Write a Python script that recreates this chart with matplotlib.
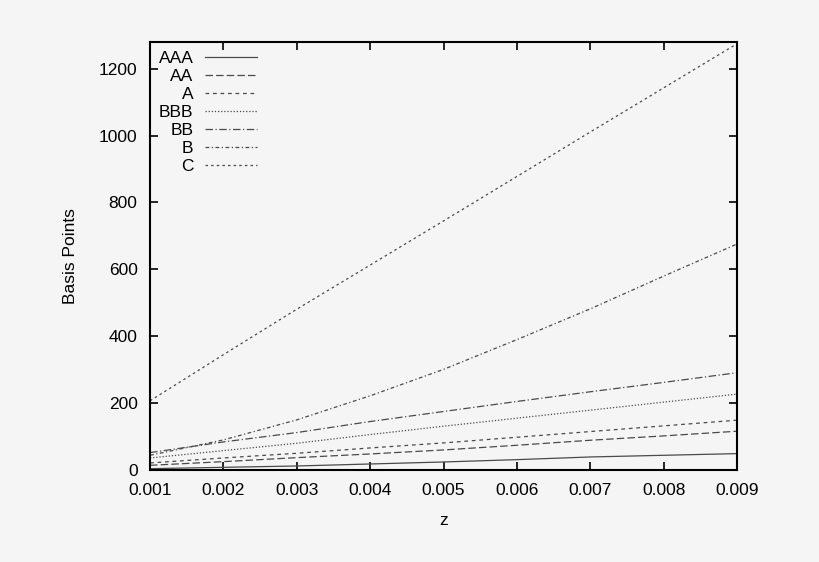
import numpy as np
import matplotlib
matplotlib.use('Agg')
from matplotlib import pyplot as plt

plt.rcParams['font.family'] = ['Liberation Sans', 'DejaVu Sans']

z = [0.001, 0.002, 0.003, 0.004, 0.005, 0.006, 0.007, 0.008, 0.009]

AAA = [4, 8, 12, 18, 24, 31, 39, 44, 49]
AA = [14, 25, 37, 48, 60, 74, 89, 102, 116]
A = [21, 36, 50, 66, 81, 98, 115, 132, 149]
BBB = [36, 58, 80, 106, 131, 155, 179, 203, 227]
BB = [52, 84, 112, 145, 175, 205, 234, 262, 291]
B = [44, 90, 150, 222, 301, 390, 482, 580, 676]
C = [207, 345, 481, 613, 745, 878, 1011, 1143, 1275]

labels = ['AAA', 'AA', 'A', 'BBB', 'BB', 'B', 'C']
series = [AAA, AA, A, BBB, BB, B, C]
dashes = [None, (6, 2.5), (3, 3), (1, 1.5), (6, 2, 1, 2), (3, 2, 1, 2), (2, 2.5)]

bg = '#f5f5f5'
fig = plt.figure(figsize=(8.2, 5.62), dpi=100, facecolor=bg)
ax = fig.add_axes([0.183, 0.1637, 0.716, 0.7616], facecolor=bg)

for lab, vals, d in zip(labels, series, dashes):
    line, = ax.plot(z, vals, color='#4a4a4a', lw=0.9, label=lab)
    if d is not None:
        line.set_dashes(d)

ax.set_xlim(0.001, 0.009)
ax.set_ylim(0, 1280)
ax.set_xticks(z)
ax.set_xticklabels(['%.3f' % v for v in z])
ax.set_yticks(range(0, 1201, 200))

ax.tick_params(direction='in', top=True, right=True, length=6, width=1.2,
               labelsize=12.5, pad=9)
for s in ax.spines.values():
    s.set_linewidth(1.5)

ax.set_xlabel('z', fontsize=12.5, labelpad=11)
ax.set_ylabel('Basis Points', fontsize=12.5, labelpad=15)

ax.legend(loc='upper left', frameon=False, markerfirst=False, fontsize=12.5,
          handlelength=3.0, handletextpad=0.65, labelspacing=0.17,
          borderaxespad=0.1, bbox_to_anchor=(0.0, 1.0))

fig.savefig('out.png', dpi=100, facecolor=bg)
